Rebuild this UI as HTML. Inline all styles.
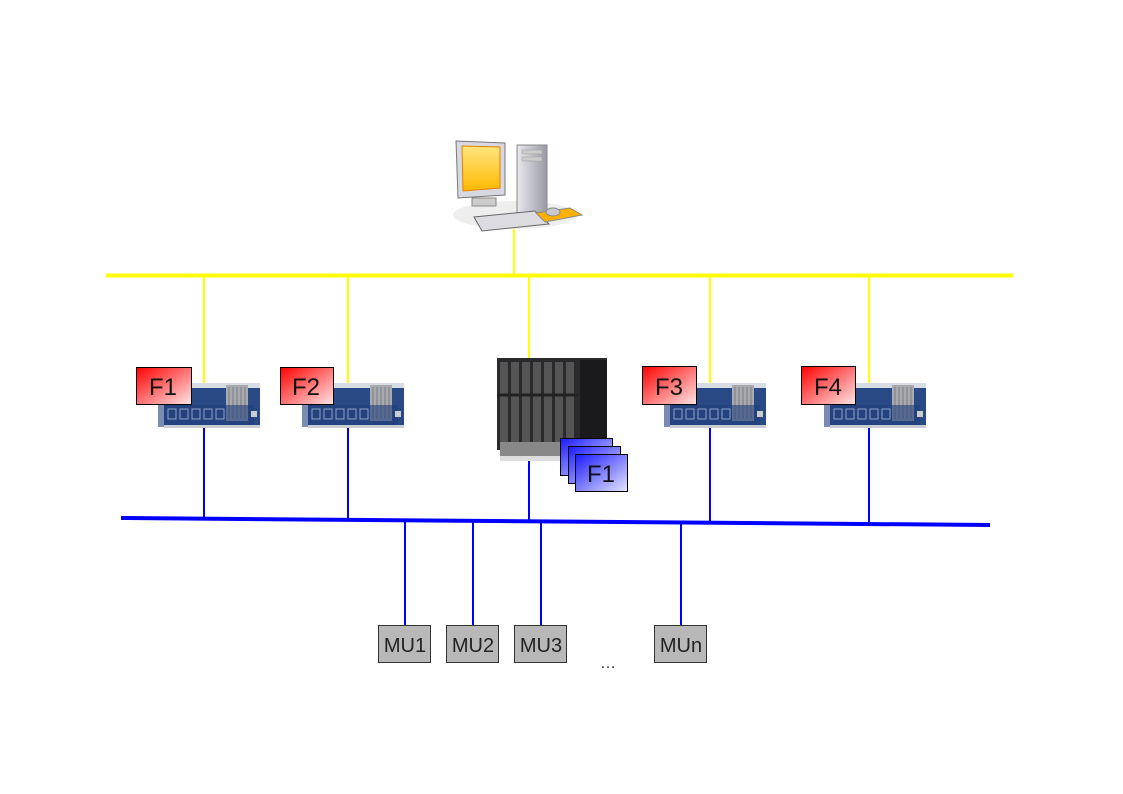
<!DOCTYPE html>
<html><head><meta charset="utf-8"><style>
html,body{margin:0;padding:0;background:#fff;}
svg{display:block;}
text{font-family:"Liberation Sans",Arial,sans-serif;}
</style></head><body>
<svg width="1123" height="794" viewBox="0 0 1123 794" xmlns="http://www.w3.org/2000/svg">
<defs>
<linearGradient id="red" x1="0" y1="0" x2="1" y2="1"><stop offset="0" stop-color="#ff0000"/><stop offset="1" stop-color="#ffe6e6"/></linearGradient>
<linearGradient id="blu" x1="0" y1="0" x2="1" y2="1"><stop offset="0" stop-color="#1a1aff"/><stop offset="1" stop-color="#e6e6ff"/></linearGradient>
<linearGradient id="scr" x1="0" y1="0" x2="0" y2="1"><stop offset="0" stop-color="#ffe680"/><stop offset="1" stop-color="#ffb800"/></linearGradient>
<linearGradient id="tow" x1="0" y1="0" x2="1" y2="0"><stop offset="0" stop-color="#e8e8ee"/><stop offset="1" stop-color="#9a9aa4"/></linearGradient>
<g id="dev">
  <rect x="0" y="2" width="96" height="42" fill="#2a4a86"/>
  <rect x="0" y="2" width="96" height="5" fill="#d8dce4"/>
  <rect x="62" y="4" width="22" height="36" fill="#a8aab0"/>
  <g stroke="#7a7c82" stroke-width="1"><line x1="65" y1="6" x2="65" y2="38"/><line x1="69" y1="6" x2="69" y2="38"/><line x1="73" y1="6" x2="73" y2="38"/><line x1="77" y1="6" x2="77" y2="38"/><line x1="81" y1="6" x2="81" y2="38"/></g>
  <rect x="-6" y="24" width="96" height="22" fill="#22407a" opacity="0.6"/>
  <rect x="0" y="44" width="96" height="3" fill="#c8ccd4"/>
  <g fill="none" stroke="#8aa0c8" stroke-width="1"><rect x="4" y="28" width="8" height="10"/><rect x="16" y="28" width="8" height="10"/><rect x="28" y="28" width="8" height="10"/><rect x="40" y="28" width="8" height="10"/><rect x="52" y="28" width="8" height="10"/></g>
  <rect x="87" y="30" width="6" height="6" fill="#ccc"/>
</g>
</defs>

<g stroke="#ffff00">
<line x1="106" y1="275.5" x2="1013" y2="275.5" stroke-width="4"/>
<line x1="514" y1="228" x2="514" y2="275" stroke-width="2"/>
<line x1="204" y1="275" x2="204" y2="384" stroke-width="2"/>
<line x1="348" y1="275" x2="348" y2="384" stroke-width="2"/>
<line x1="529" y1="275" x2="529" y2="362" stroke-width="2"/>
<line x1="710" y1="275" x2="710" y2="384" stroke-width="2"/>
<line x1="869" y1="275" x2="869" y2="384" stroke-width="2"/>
</g>

<g stroke="#0000ff">
<line x1="121" y1="518" x2="990" y2="525" stroke-width="4"/>
<line x1="204" y1="425" x2="204" y2="518" stroke-width="2"/>
<line x1="348" y1="425" x2="348" y2="519" stroke-width="2"/>
<line x1="529" y1="458" x2="529" y2="520" stroke-width="2"/>
<line x1="710" y1="425" x2="710" y2="522" stroke-width="2"/>
<line x1="869" y1="425" x2="869" y2="523" stroke-width="2"/>
<line x1="405" y1="520" x2="405" y2="626" stroke-width="2"/>
<line x1="473" y1="521" x2="473" y2="626" stroke-width="2"/>
<line x1="541" y1="521" x2="541" y2="626" stroke-width="2"/>
<line x1="681" y1="522" x2="681" y2="626" stroke-width="2"/>
</g>

<g>
<ellipse cx="515" cy="215" rx="62" ry="14" fill="#eee"/>
<rect x="517" y="145" width="30" height="70" fill="url(#tow)" stroke="#888"/>
<rect x="522" y="150" width="20" height="4" fill="#ccc" stroke="#999" stroke-width="0.5"/>
<rect x="522" y="157" width="20" height="4" fill="#ccc" stroke="#999" stroke-width="0.5"/>
<polygon points="456,141 505,143 505,195 458,198" fill="#d8d8e0" stroke="#777"/>
<polygon points="462,146 500,147 500,188 463,191" fill="url(#scr)" stroke="#e08000"/>
<rect x="472" y="198" width="24" height="8" fill="#ccc" stroke="#888"/>
<polygon points="474,217 535,211 549,224 482,231" fill="#dcdce0" stroke="#666"/>
<polygon points="536,213 570,208 582,215 545,222" fill="#ffb000" stroke="#888"/>
<ellipse cx="553" cy="212" rx="7" ry="4" fill="#c8c8d0" stroke="#888"/>
</g>

<use href="#dev" x="164" y="381"/>
<use href="#dev" x="308" y="381"/>
<use href="#dev" x="670" y="381"/>
<use href="#dev" x="830" y="381"/>

<g stroke="#000" stroke-width="1">
<rect x="136.5" y="367.5" width="55" height="37" fill="url(#red)"/>
<rect x="280.5" y="367.5" width="53" height="37" fill="url(#red)"/>
<rect x="642.5" y="366.5" width="54" height="38" fill="url(#red)"/>
<rect x="801.5" y="366.5" width="54" height="38" fill="url(#red)"/>
</g>
<g font-size="24" fill="#111">
<text x="149" y="395">F1</text>
<text x="292" y="395">F2</text>
<text x="655" y="395">F3</text>
<text x="814" y="395">F4</text>
</g>

<g>
<rect x="497" y="358" width="110" height="92" fill="#2a2a2c"/>
<rect x="580" y="360" width="27" height="78" fill="#1a1a1c"/>
<g fill="#555">
<rect x="500" y="362" width="8" height="80"/>
<rect x="511" y="362" width="8" height="80"/><rect x="522" y="362" width="8" height="80"/>
<rect x="533" y="362" width="8" height="80"/><rect x="544" y="362" width="8" height="80"/>
<rect x="555" y="362" width="8" height="80"/><rect x="566" y="362" width="8" height="80"/>
</g>
<line x1="497" y1="395" x2="578" y2="395" stroke="#222" stroke-width="3"/>
<rect x="500" y="442" width="80" height="14" fill="#888"/>
<rect x="500" y="456" width="80" height="5" fill="#ddd"/>
</g>
<g stroke="#000" stroke-width="1">
<rect x="560.5" y="438.5" width="52" height="37" fill="url(#blu)"/>
<rect x="568.5" y="446.5" width="52" height="37" fill="url(#blu)"/>
<rect x="575.5" y="454.5" width="52" height="37" fill="url(#blu)"/>
</g>
<text x="587" y="482" font-size="24" fill="#111">F1</text>

<g stroke="#333" stroke-width="1" fill="#b8b8b8">
<rect x="378.5" y="625.5" width="52" height="37"/>
<rect x="446.5" y="625.5" width="52" height="37"/>
<rect x="514.5" y="625.5" width="52" height="37"/>
<rect x="654.5" y="625.5" width="52" height="37"/>
</g>
<g font-size="20" fill="#222" text-anchor="middle">
<text x="405" y="652">MU1</text>
<text x="473" y="652">MU2</text>
<text x="541" y="652">MU3</text>
<text x="681" y="652">MUn</text>
</g>
<text x="608" y="668" font-size="16" text-anchor="middle" fill="#222">…</text>
</svg>
</body></html>
